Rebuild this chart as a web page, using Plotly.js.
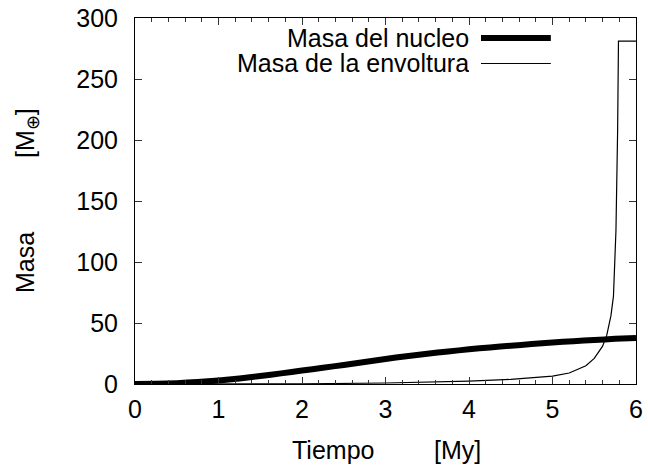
<!DOCTYPE html>
<html>
<head>
<meta charset="utf-8">
<script src="https://cdn.plot.ly/plotly-3.0.1.min.js"></script>
<style>
  html, body { margin: 0; padding: 0; background: #fff; }
  #chart { width: 648px; height: 465px; }
</style>
</head>
<body>
<div id="chart"></div>
<script>
// Core mass growth over time [My -> Earth masses]
const tiempoNucleo = [0, 0.25, 0.5, 0.75, 1, 1.25, 1.5, 1.75, 2, 2.25, 2.5, 2.75, 3,
                      3.25, 3.5, 3.75, 4, 4.25, 4.5, 4.75, 5, 5.25, 5.5, 5.75, 6];
const masaNucleo   = [0, 0.2, 0.7, 1.6, 2.9, 4.5, 6.5, 8.7, 11, 13.3, 15.6, 18, 20.5,
                      22.8, 24.8, 26.7, 28.4, 30, 31.4, 32.7, 34, 35.1, 36.1, 37, 37.8];

// Envelope mass: slow accretion, then runaway gas capture near the end
const tiempoEnvoltura = [0, 1, 2, 3, 3.5, 4, 4.5, 5, 5.2, 5.4, 5.5, 5.6, 5.65, 5.7,
                         5.73, 5.76, 5.78, 5.79, 6];
const masaEnvoltura   = [0, 0.05, 0.2, 0.8, 1.4, 2.3, 3.8, 6.5, 9, 15, 21, 31, 40, 56,
                         72, 126, 208, 281, 281];

// Legend entries and axis labels
const nombresSeries = ["Masa del nucleo", "Masa de la envoltura"];
const ticksX = [0, 1, 2, 3, 4, 5, 6];
const ticksY = [0, 50, 100, 150, 200, 250, 300];

const FONT = "Liberation Sans, Arial, Helvetica, sans-serif";
const FS = 25;

const traces = [
  {
    x: tiempoNucleo, y: masaNucleo, mode: "lines", name: nombresSeries[0],
    line: { color: "#000", width: 6, shape: "spline", smoothing: 0.8 },
    showlegend: false, hoverinfo: "skip"
  },
  {
    x: tiempoEnvoltura, y: masaEnvoltura, mode: "lines", name: nombresSeries[1],
    line: { color: "#000", width: 1.2 }, showlegend: false, hoverinfo: "skip"
  }
];

// key layout (paper coordinates)
const keyTextX = 0.67, keyLineX0 = 0.6906, keyLineX1 = 0.830;
const keyY = [0.9454, 0.8757];
const keyW = [6, 1];

const annotations = [
  { text: "Tiempo", x: (333 - 135) / 501, y: -0.18, xanchor: "center", yanchor: "middle" },
  { text: "[My]", x: (457 - 135) / 501, y: -0.18, xanchor: "center", yanchor: "middle" },
  { text: "Masa", x: -0.2196, y: (384 - 262) / 366, textangle: -90, xanchor: "center", yanchor: "middle" },
  { text: "[M<sub>⊕</sub>]", x: -0.2156, y: (384 - 133) / 366, textangle: -90, xanchor: "center", yanchor: "middle" }
].map(a => Object.assign({ xref: "paper", yref: "paper", showarrow: false, font: { family: FONT, size: FS, color: "#000" } }, a));

nombresSeries.forEach((n, i) => {
  annotations.push({
    text: n, xref: "paper", yref: "paper", x: keyTextX, y: keyY[i],
    xanchor: "right", yanchor: "middle", showarrow: false, height: 24,
    font: { family: FONT, size: FS, color: "#000" }
  });
});

const shapes = nombresSeries.map((n, i) => ({
  type: "line", xref: "paper", yref: "paper",
  x0: keyLineX0, x1: keyLineX1, y0: keyY[i], y1: keyY[i],
  line: { color: "#000", width: keyW[i] }
}));

const layout = {
  width: 648, height: 465,
  margin: { l: 135, r: 12, t: 18, b: 81 },
  paper_bgcolor: "#fff", plot_bgcolor: "#fff",
  font: { family: FONT, size: FS, color: "#000" },
  xaxis: {
    range: [0, 6], tickvals: ticksX, ticktext: ticksX.map(String),
    ticks: "inside", ticklen: 7, tickwidth: 1, tickcolor: "#333",
    showline: true, linecolor: "#000", linewidth: 1, mirror: "allticks",
    showgrid: false, zeroline: false, ticklabelstandoff: 3,
    minor: { dtick: 0.2, ticks: "inside", ticklen: 4, tickwidth: 1, tickcolor: "#333", showgrid: false },
    tickfont: { family: FONT, size: FS, color: "#000" }
  },
  yaxis: {
    range: [0, 300], tickvals: ticksY, ticktext: ticksY.map(String),
    ticks: "inside", ticklen: 7, tickwidth: 1, tickcolor: "#333",
    showline: true, linecolor: "#000", linewidth: 1, mirror: "allticks",
    showgrid: false, zeroline: false, ticklabelstandoff: 11,
    tickfont: { family: FONT, size: FS, color: "#000" }
  },
  annotations: annotations,
  shapes: shapes,
  showlegend: false
};

Plotly.newPlot("chart", traces, layout, { staticPlot: true, displayModeBar: false });
</script>
</body>
</html>
